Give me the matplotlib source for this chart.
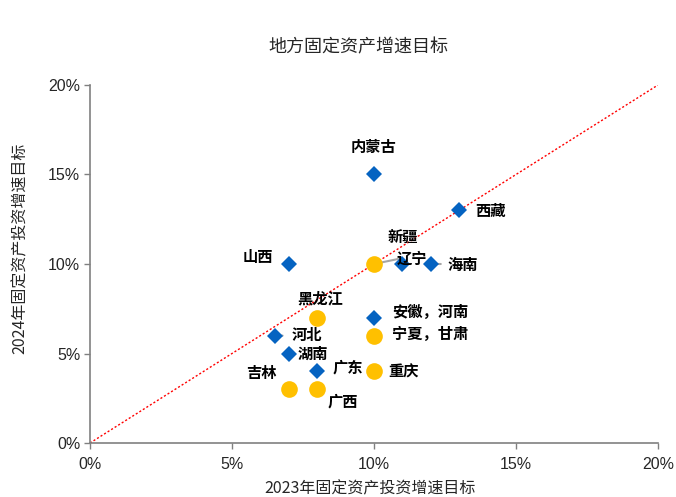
import matplotlib
matplotlib.use("Agg")
import matplotlib.pyplot as plt
from matplotlib.ticker import FuncFormatter

plt.rcParams['font.family'] = ['Noto Sans CJK SC', 'DejaVu Sans']

# Provinces whose 2024 target rose or stayed the same (diamonds)
up_names = ["内蒙古", "西藏", "山西", "辽宁", "海南", "安徽，河南", "河北", "湖南", "广东"]
up_2023 = [10, 13, 7, 11, 12, 10, 6.5, 7, 8]
up_2024 = [15, 13, 10, 10, 10, 7, 6, 5, 4]

# Provinces whose 2024 target was lowered (circles)
down_names = ["新疆", "黑龙江", "宁夏，甘肃", "重庆", "吉林", "广西"]
down_2023 = [10, 8, 10, 10, 7, 8]
down_2024 = [10, 7, 6, 4, 3, 3]

x_ticks = [0, 5, 10, 15, 20]
y_ticks = [0, 5, 10, 15, 20]

BLUE = "#0563C1"
GOLD = "#FFC000"

# label placement: (dx, dy) in pixels from the marker, horizontal alignment
label_pos = {
    "内蒙古": (0, 27, "center"),
    "西藏": (16, -1, "left"),
    "山西": (-16, 7, "right"),
    "辽宁": (-6, 5, "left"),
    "海南": (17, -1, "left"),
    "安徽，河南": (18, 6, "left"),
    "河北": (17, 1, "left"),
    "湖南": (9, 0, "left"),
    "广东": (15, 4, "left"),
    "新疆": (29, 27, "center"),
    "黑龙江": (3, 19, "center"),
    "宁夏，甘肃": (18, 2, "left"),
    "重庆": (14, 0, "left"),
    "吉林": (-27, 16, "center"),
    "广西": (10, -12, "left"),
}

fig = plt.figure(figsize=(6.76, 4.97), dpi=100)
ax = fig.add_axes([90 / 676, 1 - 443 / 497, 568 / 676, 358 / 497])

ax.plot([0, 20], [0, 20], linestyle=(0, (1.5, 1.5)), color="#FF0000", lw=1.0, zorder=1)

ax.plot(up_2023, up_2024, linestyle="none", marker="D", markersize=8.5,
        color=BLUE, markeredgewidth=0, zorder=3)
ax.plot(down_2023, down_2024, linestyle="none", marker="o", markersize=12,
        color=GOLD, markeredgewidth=0, zorder=3)

# short leader lines
leaders = [((10, 10), (24, 5)), ((12, 10), (10, 0)), ((6.5, 6), (8, 0))]
for (px, py), (dx, dy) in leaders:
    ax.annotate("", xy=(px, py), xytext=(dx, dy), textcoords="offset pixels",
                arrowprops=dict(arrowstyle="-", color="#A6A6A6", lw=1.5,
                                shrinkA=0, shrinkB=2), zorder=2)

for names, xs, ys in [(up_names, up_2023, up_2024), (down_names, down_2023, down_2024)]:
    for n, xv, yv in zip(names, xs, ys):
        dx, dy, ha = label_pos[n]
        ax.annotate(n, xy=(xv, yv), xytext=(dx, dy), textcoords="offset pixels",
                    ha=ha, va="center", fontsize=11, fontweight="bold",
                    color="black", zorder=4)

ax.set_xlim(0, 20)
ax.set_ylim(0, 20)
ax.set_xticks(x_ticks)
ax.set_yticks(y_ticks)
pct = FuncFormatter(lambda v, _: f"{v:.0f}%")
ax.xaxis.set_major_formatter(pct)
ax.yaxis.set_major_formatter(pct)
for lab in ax.get_xticklabels() + ax.get_yticklabels():
    lab.set_family("Liberation Sans")
    lab.set_fontsize(11.5)
    lab.set_color("#262626")

for s in ["top", "right"]:
    ax.spines[s].set_visible(False)
for s in ["left", "bottom"]:
    ax.spines[s].set_color("#808080")
    ax.spines[s].set_linewidth(1.2)
ax.tick_params(axis="both", direction="out", length=4, color="#808080", width=1.0)
ax.tick_params(axis="x", pad=6)
ax.tick_params(axis="y", pad=3)

ax.set_xlabel("2023年固定资产投资增速目标", fontsize=11.5, color="#262626", labelpad=2)
ax.xaxis.set_label_coords((370 - 90) / 568, -(489 - 443) / 358)
ax.set_ylabel("2024年固定资产投资增速目标", fontsize=11.5, color="#262626")
ax.yaxis.set_label_coords(-(90 - 20) / 568, (443 - 248) / 358)
ax.xaxis.label.set_va("center")
ax.yaxis.label.set_va("center")
fig.text(358 / 676, 1 - 47 / 497, "地方固定资产增速目标", ha="center", va="center",
         fontsize=13, color="#262626")

fig.savefig("out.png", dpi=100)
